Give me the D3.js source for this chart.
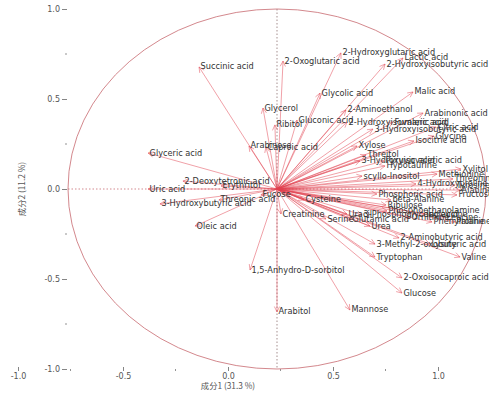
<!DOCTYPE html>
<html>
<head>
<meta charset="utf-8">
<script src="https://cdn.jsdelivr.net/npm/d3@7"></script>
<style>
  html, body { margin: 0; padding: 0; background: #fff; }
  svg { display: block; }
</style>
</head>
<body>
<svg id="chart" width="489" height="398"></svg>
<script>
// PCA loading plot: metabolite loadings on component 1 and component 2
const metabolites = [
  "Succinic acid", "2-Oxoglutaric acid", "2-Hydroxyglutaric acid", "Lactic acid",
  "2-Hydroxyisobutyric acid", "Malic acid", "Glycolic acid", "Glycerol",
  "2-Aminoethanol", "Arabinonic acid", "Gluconic acid", "Ribitol",
  "2-Hydroxyisovaleric acid", "Fumaric acid", "3-Hydroxyisobutyric acid", "Citric acid",
  "Glycine", "Isocitric acid", "Arabinose", "Caproic acid",
  "Xylose", "Threitol", "3-Hydroxyisovaleric acid", "Pyruvic acid",
  "Hypotaurine", "scyllo-Inositol", "Methionine", "Xylitol",
  "4-Hydroxyproline", "Threonine", "Tyrosine", "Alanine",
  "Fructose", "Phosphoric acid", "beta-Alanine", "Cysteine",
  "Ribulose", "Phosphoethanolamine", "Uracil", "3-Phosphoglyceric acid",
  "Serine", "Glutamic acid", "Isoleucine", "Leucine",
  "Phenylalanine", "Proline", "Ornithine", "Urea",
  "2-Aminobutyric acid", "3-Methyl-2-oxobutyric acid", "Lysine", "Valine",
  "Tryptophan", "2-Oxoisocaproic acid", "Glucose", "Mannose",
  "Arabitol", "1,5-Anhydro-D-sorbitol", "Creatinine", "Fucose",
  "Threonic acid", "3-Hydroxybutyric acid", "Oleic acid", "Uric acid",
  "2-Deoxytetronic acid", "Erythritol", "Glyceric acid"
];
const pc1 = [
  -0.373, 0.029, 0.306, 0.603,
  0.517, 0.651, 0.206, -0.067,
  0.330, 0.699, 0.096, -0.010,
  0.335, 0.555, 0.459, 0.761,
  0.751, 0.655, -0.134, -0.053,
  0.383, 0.426, 0.397, 0.512,
  0.517, 0.407, 0.766, 0.880,
  0.665, 0.842, 0.852, 0.876,
  0.861, 0.478, 0.545, 0.129,
  0.522, 0.526, 0.335, 0.407,
  0.234, 0.354, 0.708, 0.804,
  0.742, 0.852, 0.636, 0.445,
  0.584, 0.469, 0.732, 0.876,
  0.469, 0.598, 0.598, 0.349,
  0.000, -0.129, 0.019, -0.077,
  -0.278, -0.560, -0.392, -0.617,
  -0.450, -0.268, -0.617
];
const pc2 = [
  0.678, 0.711, 0.756, 0.728,
  0.694, 0.539, 0.533, 0.450,
  0.439, 0.422, 0.383, 0.356,
  0.372, 0.372, 0.333, 0.344,
  0.294, 0.267, 0.239, 0.233,
  0.239, 0.189, 0.156, 0.156,
  0.128, 0.072, 0.083, 0.111,
  0.028, 0.056, 0.022, -0.006,
  -0.033, -0.028, -0.061, -0.061,
  -0.089, -0.122, -0.139, -0.144,
  -0.167, -0.172, -0.139, -0.156,
  -0.183, -0.183, -0.161, -0.206,
  -0.272, -0.306, -0.306, -0.378,
  -0.378, -0.494, -0.578, -0.672,
  -0.683, -0.450, -0.139, -0.033,
  -0.061, -0.083, -0.206, 0.000,
  0.044, 0.017, 0.200
];
const tickValues = [-1.0, -0.5, 0.0, 0.5, 1.0];
const minorTicks = [-0.75, -0.25, 0.25, 0.75];
const xTitle = "成分1 (31.3 %)";
const yTitle = "成分2 (11.2 %)";

const svg = d3.select("#chart");
svg.append("rect").attr("width", 489).attr("height", 398).attr("fill", "#fff");

// axis scales (tick labels) and loading scales (circle, arrows)
const ax = d3.scaleLinear().domain([-1, 1]).range([18, 438]);
const ay = d3.scaleLinear().domain([-1, 1]).range([369, 9]);
const lx = d3.scaleLinear().domain([-1, 1]).range([68, 486]);
const ly = ay;

const fmt = d => d.toFixed(1);
const axisFont = "'DejaVu Sans', Verdana, sans-serif";

// y axis
const yAxis = svg.append("g").attr("transform", "translate(67,0)")
  .call(d3.axisLeft(ay).tickValues(tickValues).tickFormat(fmt).tickSize(5).tickPadding(2));
yAxis.select(".domain").remove();
yAxis.selectAll("line").attr("stroke", "#666").attr("stroke-width", 0.8);
yAxis.selectAll("text").attr("fill", "#555").attr("font-size", 8).attr("font-family", axisFont);
svg.append("g").selectAll("line").data(minorTicks).join("line")
  .attr("x1", 65).attr("x2", 67).attr("y1", d => ay(d)).attr("y2", d => ay(d))
  .attr("stroke", "#777").attr("stroke-width", 0.8);

// x axis
const xAxis = svg.append("g").attr("transform", "translate(0,367)")
  .call(d3.axisBottom(ax).tickValues(tickValues).tickFormat(fmt).tickSize(4).tickPadding(2));
xAxis.select(".domain").remove();
xAxis.selectAll("line").attr("stroke", "#666").attr("stroke-width", 0.8);
xAxis.selectAll("text").attr("fill", "#555").attr("font-size", 8).attr("font-family", axisFont);
svg.append("g").selectAll("line").data(minorTicks).join("line")
  .attr("x1", d => ax(d)).attr("x2", d => ax(d)).attr("y1", 369).attr("y2", 371)
  .attr("stroke", "#777").attr("stroke-width", 0.8);

// axis titles
svg.append("text").attr("x", ax(0)).attr("y", 389).attr("text-anchor", "middle")
  .attr("font-size", 8.3).attr("fill", "#555")
  .attr("font-family", "'Noto Sans CJK SC', 'DejaVu Sans', sans-serif").text(xTitle);
svg.append("text").attr("transform", `translate(23,${ay(0)}) rotate(-90)`)
  .attr("text-anchor", "middle").attr("dominant-baseline", "middle")
  .attr("font-size", 8.3).attr("fill", "#555")
  .attr("font-family", "'Noto Sans CJK SC', 'DejaVu Sans', sans-serif").text(yTitle);

// reference lines through the origin
svg.append("line").attr("x1", lx(-1)).attr("x2", lx(1)).attr("y1", ly(0)).attr("y2", ly(0))
  .attr("stroke", "#c05860").attr("stroke-width", 0.7).attr("stroke-dasharray", "1.5,2");
svg.append("line").attr("x1", lx(0)).attr("x2", lx(0)).attr("y1", ly(1)).attr("y2", ly(-1))
  .attr("stroke", "#806060").attr("stroke-width", 0.7).attr("stroke-dasharray", "1.5,2");

// unit correlation circle
svg.append("ellipse").attr("cx", lx(0)).attr("cy", ly(0))
  .attr("rx", lx(1) - lx(0)).attr("ry", ly(0) - ly(1))
  .attr("fill", "none").attr("stroke", "#c86a70").attr("stroke-width", 0.8);

const rows = metabolites.map((name, i) => ({ name, x: pc1[i], y: pc2[i] }));

// loading arrows
const arrows = svg.append("g").attr("fill", "none")
  .attr("stroke", "#e0404e").attr("stroke-width", 0.7).attr("stroke-opacity", 0.7);
arrows.selectAll("path").data(rows).join("path")
  .attr("d", d => {
    const x0 = lx(0), y0 = ly(0), x1 = lx(d.x), y1 = ly(d.y);
    const a = Math.atan2(y1 - y0, x1 - x0);
    const h = 6, s = 0.45;
    const p1 = [x1 - h * Math.cos(a - s), y1 - h * Math.sin(a - s)];
    const p2 = [x1 - h * Math.cos(a + s), y1 - h * Math.sin(a + s)];
    return `M${x0},${y0}L${x1},${y1}M${p1[0]},${p1[1]}L${x1},${y1}L${p2[0]},${p2[1]}`;
  });

// metabolite labels
svg.append("g").selectAll("text").data(rows).join("text")
  .attr("x", d => lx(d.x) + 1.5).attr("y", d => ly(d.y))
  .attr("dominant-baseline", "middle")
  .attr("font-size", 8.2).attr("font-family", axisFont).attr("fill", "#333")
  .text(d => d.name);
</script>
</body>
</html>
